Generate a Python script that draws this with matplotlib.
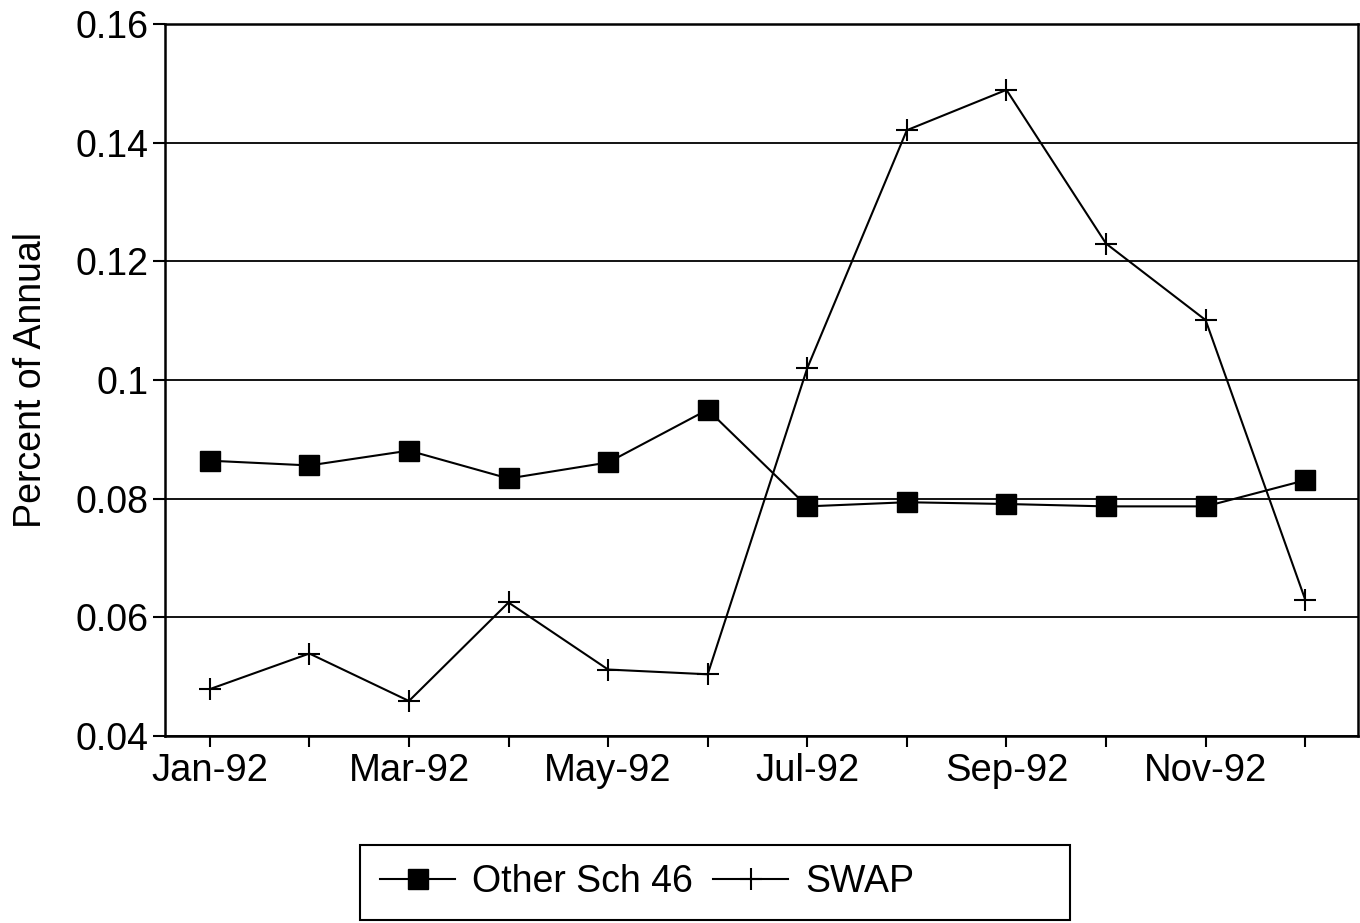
import matplotlib.pyplot as plt
from matplotlib.patches import Rectangle

# monthly share of annual total, 1992
months = ['Jan-92', 'Feb-92', 'Mar-92', 'Apr-92', 'May-92', 'Jun-92',
          'Jul-92', 'Aug-92', 'Sep-92', 'Oct-92', 'Nov-92', 'Dec-92']
other_sch46 = [0.0864, 0.0856, 0.0881, 0.0834, 0.0861, 0.0950,
               0.0787, 0.0794, 0.0791, 0.0787, 0.0787, 0.0831]
swap = [0.0479, 0.0539, 0.0459, 0.0625, 0.0512, 0.0504,
        0.1020, 0.1421, 0.1489, 0.1230, 0.1101, 0.0630]
yticks = [0.04, 0.06, 0.08, 0.1, 0.12, 0.14, 0.16]
ytick_labels = ['0.04', '0.06', '0.08', '0.1', '0.12', '0.14', '0.16']

plt.rcParams['font.family'] = ['Liberation Sans', 'DejaVu Sans']

fig = plt.figure(figsize=(13.6, 9.23), dpi=100)
ax = fig.add_axes([0.1213, 0.2026, 0.8772, 0.7714])

x = list(range(len(months)))
ax.plot(x, other_sch46, color='black', lw=1.5, marker='s', markersize=15,
        label='Other Sch 46')
ax.plot(x, swap, color='black', lw=1.5, marker='+', markersize=16,
        markeredgewidth=1.5, label='SWAP')

ax.set_ylim(0.04, 0.16)
ax.set_xlim(-0.45, 11.53)
ax.set_yticks(yticks)
ax.set_yticklabels(ytick_labels, fontsize=27)
ax.set_xticks(x)
ax.set_xticklabels([m if i % 2 == 0 else '' for i, m in enumerate(months)], fontsize=27.5)
ax.tick_params(axis='x', direction='out', length=8, width=1.5, color='black', pad=4)
ax.tick_params(axis='y', direction='out', length=9, width=1.5, color='black', pad=3)
ax.yaxis.grid(True, color='black', lw=1.3)
ax.set_axisbelow(True)
for s in ax.spines.values():
    s.set_linewidth(1.8)

ax.set_ylabel('Percent of Annual', fontsize=27, labelpad=19)

# legend box is wider than its content in the original, so draw the frame separately
fig.patches.append(Rectangle((360 / 1360, 3 / 923), 710 / 1360, 75 / 923,
                             transform=fig.transFigure, fill=False,
                             edgecolor='black', lw=1.5))
leg = fig.legend(loc='center left', bbox_to_anchor=(380 / 1360, 41 / 923), ncol=2,
                 fontsize=27, frameon=False, handlelength=2.0,
                 columnspacing=0.55, handletextpad=0.45, borderpad=0,
                 borderaxespad=0)

fig.savefig('out.png', dpi=100)
